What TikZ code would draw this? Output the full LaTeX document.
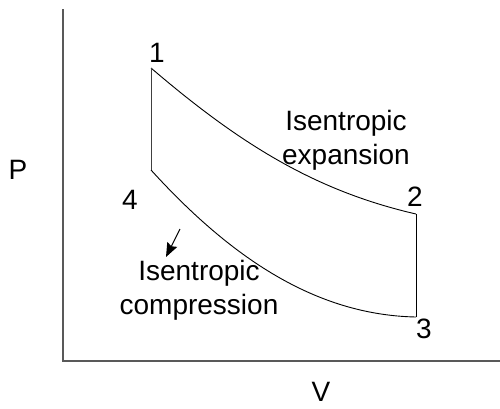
\documentclass[tikz,border=0pt]{standalone}
\usepackage{fontspec}
\setmainfont{Liberation Sans}
\usetikzlibrary{arrows.meta}
\tikzstyle{lbl}   = [inner sep=0pt, text centered, font=\fontsize{28}{34}\selectfont]
\tikzstyle{axis}  = [draw=black!65, line width=1.3pt]
\tikzstyle{curve} = [draw=black, line width=0.9pt]
\tikzstyle{arrow} = [line width=1pt,->,>={Stealth[length=14pt,width=11pt,inset=2pt]}]

\begin{document}
\begin{tikzpicture}[x=1pt, y=-1pt]
  \useasboundingbox (0,0) rectangle (500,408);

  % Axes
  \coordinate (top) at (63,9);
  \coordinate (orig) at (63,361);
  \coordinate (right) at (500,361);
  \draw[axis] (top) -- (orig) -- (right);
  \node[lbl] (plab) at (18,170) {P};
  \node[lbl] (vlab) at (321,392) {V};

  % State points
  \coordinate (p1) at (151,68);
  \coordinate (p2) at (416,214);
  \coordinate (p3) at (416,317);
  \coordinate (p4) at (151,170);
  \node[lbl] (n1) at (157,53) {1};
  \node[lbl] (n2) at (415,197) {2};
  \node[lbl] (n3) at (424,329) {3};
  \node[lbl] (n4) at (130,200) {4};

  % Cycle
  \draw[curve] (p1) .. controls (241,145) and (316,191) .. (p2);
  \draw[curve] (p2) -- (p3);
  \draw[curve] (p3) .. controls (316,315) and (231,258) .. (p4);
  \draw[curve, draw=black!75] (p4) -- (p1);

  % Labels
  \node[lbl, align=center] (expn) at (346,140) {Isentropic\\expansion};
  \node[lbl, align=center] (comp) at (199,290) {Isentropic\\compression};
  \coordinate (a0) at (180,229);
  \coordinate (a1) at (166,257);
  \draw[arrow] (a0) -- (a1);

\end{tikzpicture}
\end{document}
